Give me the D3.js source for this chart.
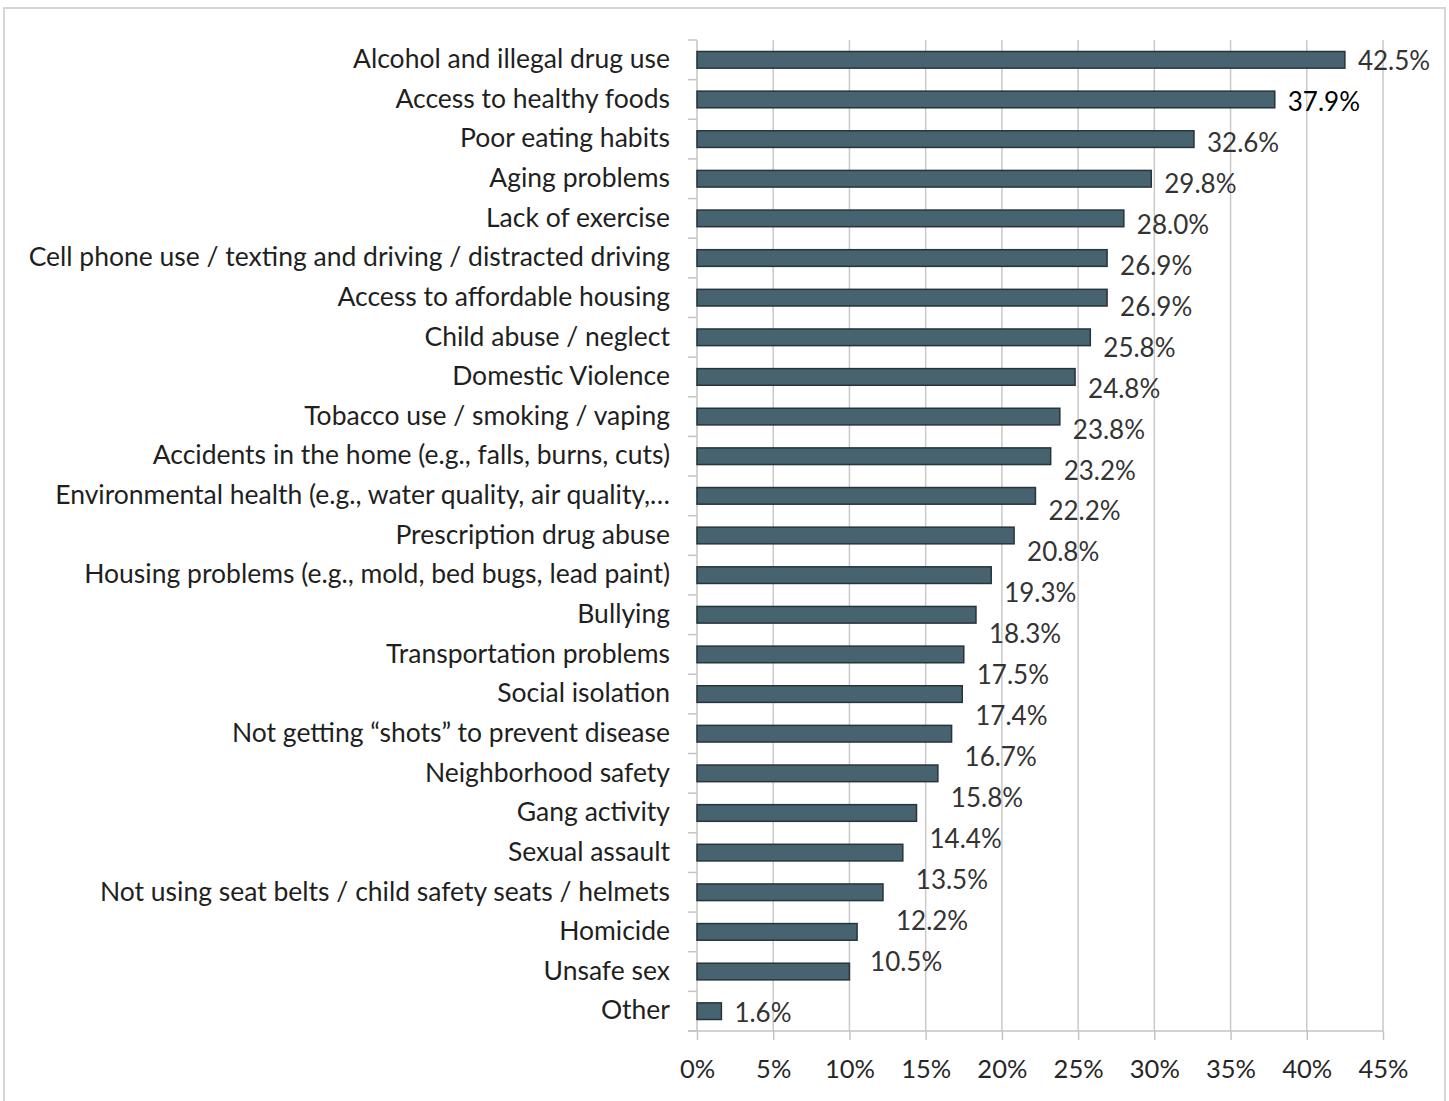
<!DOCTYPE html>
<html>
<head>
<meta charset="utf-8">
<script src="https://cdn.jsdelivr.net/npm/d3@7"></script>
<style>
  html, body { margin: 0; padding: 0; background: #fff; }
  svg { display: block; }
</style>
</head>
<body>
<div id="chart"></div>
<script>
// Community health problems, share of respondents (%)
const categories = [
  "Alcohol and illegal drug use",
  "Access to healthy foods",
  "Poor eating habits",
  "Aging problems",
  "Lack of exercise",
  "Cell phone use / texting and driving / distracted driving",
  "Access to affordable housing",
  "Child abuse / neglect",
  "Domestic Violence",
  "Tobacco use / smoking / vaping",
  "Accidents in the home (e.g., falls, burns, cuts)",
  "Environmental health (e.g., water quality, air quality,\u2026",
  "Prescription drug abuse",
  "Housing problems (e.g., mold, bed bugs, lead paint)",
  "Bullying",
  "Transportation problems",
  "Social isolation",
  "Not getting \u201cshots\u201d to prevent disease",
  "Neighborhood safety",
  "Gang activity",
  "Sexual assault",
  "Not using seat belts / child safety seats / helmets",
  "Homicide",
  "Unsafe sex",
  "Other"
];

const values = [42.5, 37.9, 32.6, 29.8, 28.0, 26.9, 26.9, 25.8, 24.8, 23.8,
                 23.2, 22.2, 20.8, 19.3, 18.3, 17.5, 17.4, 16.7, 15.8, 14.4,
                 13.5, 12.2, 10.5, 10.0, 1.6];

// Data labels as printed; the "Unsafe sex" bar carries none
const valueLabels = ["42.5%", "37.9%", "32.6%", "29.8%", "28.0%", "26.9%", "26.9%",
                     "25.8%", "24.8%", "23.8%", "23.2%", "22.2%", "20.8%", "19.3%",
                     "18.3%", "17.5%", "17.4%", "16.7%", "15.8%", "14.4%", "13.5%",
                     "12.2%", "10.5%", null, "1.6%"];

const xTicks = [0, 5, 10, 15, 20, 25, 30, 35, 40, 45];

const W = 1449, H = 1101;
const margin = { top: 40, right: 66, bottom: 70, left: 697 };
const innerW = W - margin.left - margin.right;
const innerH = H - margin.top - margin.bottom;

const font = "Lato, 'Open Sans', sans-serif";
const fontSize = 26;

const svg = d3.select("#chart").append("svg")
  .attr("width", W).attr("height", H);

// outer chart frame
svg.append("rect")
  .attr("x", 4).attr("y", 8)
  .attr("width", W - 8).attr("height", H - 6)
  .attr("fill", "#fff")
  .attr("stroke", "#d6d6d6").attr("stroke-width", 2);

const g = svg.append("g").attr("transform", `translate(${margin.left},${margin.top})`);

const x = d3.scaleLinear().domain([0, 45]).range([0, innerW]);
const y = d3.scaleBand().domain(categories).range([0, innerH]).paddingInner(0.58).paddingOuter(0.29);

const rows = categories.map((c, i) => ({ cat: c, value: values[i], label: valueLabels[i] }));

// vertical gridlines
g.append("g").selectAll("line")
  .data(xTicks.slice(1))
  .join("line")
  .attr("x1", d => x(d)).attr("x2", d => x(d))
  .attr("y1", 0).attr("y2", innerH)
  .attr("stroke", "#c9c9c9").attr("stroke-width", 1.5);

// bottom axis
const xAxis = g.append("g")
  .attr("transform", `translate(0,${innerH})`)
  .call(d3.axisBottom(x).tickValues(xTicks).tickFormat(d => d + "%").tickSize(9).tickPadding(20).tickSizeOuter(0));
xAxis.select(".domain").attr("stroke", "#c4c4c4").attr("stroke-width", 1.5)
  .attr("d", `M-9,0H${innerW}`);
xAxis.selectAll(".tick line").attr("stroke", "#c4c4c4").attr("stroke-width", 1.5);
xAxis.selectAll(".tick text")
  .attr("font-family", font).attr("font-size", 25.5).attr("fill", "#262626");

// left axis line with ticks at category boundaries
const bounds = d3.range(categories.length + 1).map(i => i * innerH / categories.length);
g.append("line")
  .attr("x1", 0).attr("x2", 0).attr("y1", 0).attr("y2", innerH)
  .attr("stroke", "#c4c4c4").attr("stroke-width", 1.5);
g.append("g").selectAll("line")
  .data(bounds)
  .join("line")
  .attr("x1", -9).attr("x2", 0)
  .attr("y1", d => d).attr("y2", d => d)
  .attr("stroke", "#c4c4c4").attr("stroke-width", 1.5);

// category labels
g.append("g").selectAll("text")
  .data(rows)
  .join("text")
  .attr("x", -27)
  .attr("y", d => y(d.cat) + y.bandwidth() / 2 - 1)
  .attr("dy", "0.35em")
  .attr("text-anchor", "end")
  .attr("font-family", font).attr("font-size", fontSize + 0.5)
  .attr("fill", "#1f1f1f")
  .text(d => d.cat);

// bars
g.append("g").selectAll("rect")
  .data(rows)
  .join("rect")
  .attr("x", 0)
  .attr("y", d => y(d.cat))
  .attr("width", d => x(d.value))
  .attr("height", y.bandwidth())
  .attr("fill", "#486370")
  .attr("stroke", "#26343b").attr("stroke-width", 1.5);

// value labels: they step down a touch faster than the bars
const labelled = rows.filter(d => d.label && d.cat !== "Other");
const labelY = d3.scalePoint().domain(labelled.map(d => d.cat))
  .range([y(labelled[0].cat) + y.bandwidth() / 2 + 1, y(labelled[labelled.length - 1].cat) + y.bandwidth() / 2 + 30]);

g.append("g").selectAll("text")
  .data(rows.filter(d => d.label))
  .join("text")
  .attr("x", d => x(d.value) + 13)
  .attr("y", d => d.cat === "Other" ? y(d.cat) + y.bandwidth() / 2 + 2 : labelY(d.cat))
  .attr("dy", "0.35em")
  .attr("font-family", font).attr("font-size", fontSize)
  .attr("fill", d => d.cat === "Access to healthy foods" ? "#000" : "#333")
  .text(d => d.label);
</script>
</body>
</html>
